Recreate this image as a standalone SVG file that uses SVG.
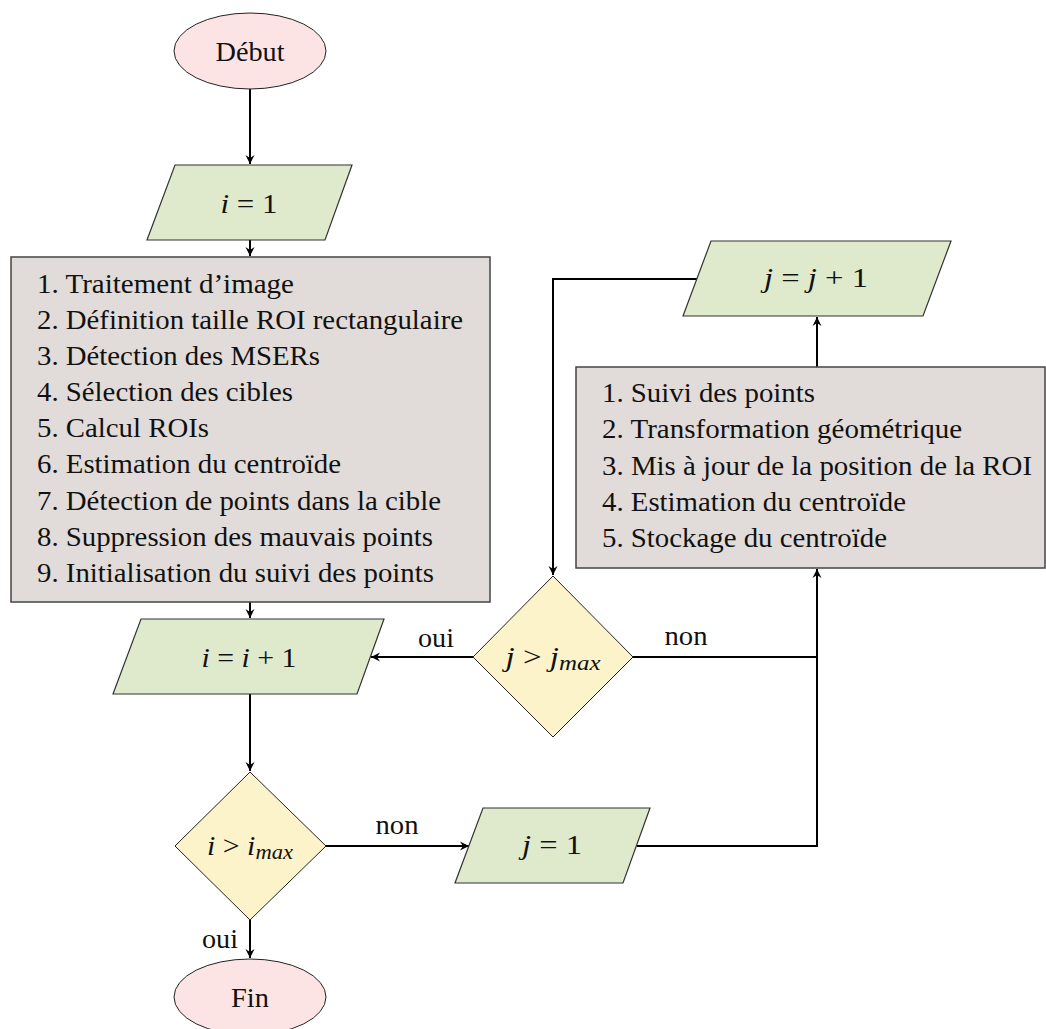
<svg xmlns="http://www.w3.org/2000/svg" width="1046" height="1029" viewBox="0 0 1046 1029">
<defs>
<marker id="arr" markerWidth="12" markerHeight="12" viewBox="-10 -6 12 12" refX="0" refY="0" orient="auto" markerUnits="userSpaceOnUse">
<path d="M0,0 L-9,-4.5 L-6,0 L-9,4.5 Z" fill="#000"/>
</marker>
</defs>
<style>
text{font-family:"Liberation Serif","DejaVu Serif",serif;font-size:26.5px;fill:#111}
.m{text-anchor:middle}
.it{font-style:italic}
.sub{font-style:italic;font-size:20px}
.term{fill:#fde4e4;stroke:#222;stroke-width:1}
.io{fill:#dfe9cc;stroke:#333;stroke-width:1.2}
.proc{fill:#e1dcd9;stroke:#444;stroke-width:1.5}
.dec{fill:#fdf3cb;stroke:#222;stroke-width:1}
.c{fill:none;stroke:#000;stroke-width:2}
</style>
<g id="connectors">
<path class="c" d="M250,89 V164" marker-end="url(#arr)"/>
<path class="c" d="M250,240 V256" marker-end="url(#arr)"/>
<path class="c" d="M250,602 V618" marker-end="url(#arr)"/>
<path class="c" d="M250,694 V771" marker-end="url(#arr)"/>
<path class="c" d="M250,920 V958" marker-end="url(#arr)"/>
<path class="c" d="M326,846 H469" marker-end="url(#arr)"/>
<path class="c" d="M637,846 H817 V569" marker-end="url(#arr)"/>
<path class="c" d="M633,657 H817"/>
<path class="c" d="M473,657 H371" marker-end="url(#arr)"/>
<path class="c" d="M817,367 V317" marker-end="url(#arr)"/>
<path class="c" d="M697,279 H553 V575" marker-end="url(#arr)"/>
<text class="m" x="436" y="647" textLength="36" lengthAdjust="spacingAndGlyphs">oui</text>
<text class="m" x="686" y="645" textLength="43" lengthAdjust="spacingAndGlyphs">non</text>
<text class="m" x="397" y="834" textLength="43" lengthAdjust="spacingAndGlyphs">non</text>
<text class="m" x="220" y="948" textLength="36" lengthAdjust="spacingAndGlyphs">oui</text>
</g>
<g id="debut">
<ellipse class="term" cx="250" cy="51" rx="76" ry="38"/>
<text class="m" x="250" y="61" textLength="69" lengthAdjust="spacingAndGlyphs">Début</text>
</g>
<g id="init-i">
<polygon class="io" points="175,165 352,165 325,240 147,240"/>
<text class="m" x="249" y="213" textLength="57" lengthAdjust="spacingAndGlyphs"><tspan class="it">i</tspan> = 1</text>
</g>
<g id="init-process">
<rect class="proc" x="11" y="257" width="479" height="345"/>
<text x="37" y="293" textLength="257" lengthAdjust="spacingAndGlyphs">1. Traitement d’image</text>
<text x="37" y="329" textLength="426" lengthAdjust="spacingAndGlyphs">2. Définition taille ROI rectangulaire</text>
<text x="37" y="365" textLength="283" lengthAdjust="spacingAndGlyphs">3. Détection des MSERs</text>
<text x="37" y="401" textLength="256" lengthAdjust="spacingAndGlyphs">4. Sélection des cibles</text>
<text x="37" y="437" textLength="172" lengthAdjust="spacingAndGlyphs">5. Calcul ROIs</text>
<text x="37" y="473" textLength="304" lengthAdjust="spacingAndGlyphs">6. Estimation du centroïde</text>
<text x="37" y="510" textLength="404" lengthAdjust="spacingAndGlyphs">7. Détection de points dans la cible</text>
<text x="37" y="546" textLength="396" lengthAdjust="spacingAndGlyphs">8. Suppression des mauvais points</text>
<text x="37" y="582" textLength="397" lengthAdjust="spacingAndGlyphs">9. Initialisation du suivi des points</text>
</g>
<g id="incr-i">
<polygon class="io" points="141,619 384,619 357,694 113,694"/>
<text class="m" x="249" y="667" textLength="95" lengthAdjust="spacingAndGlyphs"><tspan class="it">i</tspan> = <tspan class="it">i</tspan> + 1</text>
</g>
<g id="test-i">
<polygon class="dec" points="250,772 326,846 250,920 175,846"/>
<text class="m" x="250" y="855" textLength="86" lengthAdjust="spacingAndGlyphs"><tspan class="it">i</tspan> &gt; <tspan class="it">i</tspan><tspan class="sub" dy="4">max</tspan></text>
</g>
<g id="fin">
<ellipse class="term" cx="250" cy="997" rx="76" ry="38"/>
<text class="m" x="250" y="1007" textLength="38" lengthAdjust="spacingAndGlyphs">Fin</text>
</g>
<g id="init-j">
<polygon class="io" points="483,808 650,808 623,883 455,883"/>
<text class="m" x="552" y="854" textLength="60" lengthAdjust="spacingAndGlyphs"><tspan class="it">j</tspan> = 1</text>
</g>
<g id="track-process">
<rect class="proc" x="576" y="367" width="469" height="201"/>
<text x="602" y="402" textLength="213" lengthAdjust="spacingAndGlyphs">1. Suivi des points</text>
<text x="602" y="438" textLength="360" lengthAdjust="spacingAndGlyphs">2. Transformation géométrique</text>
<text x="602" y="475" textLength="430" lengthAdjust="spacingAndGlyphs">3. Mis à jour de la position de la ROI</text>
<text x="602" y="511" textLength="304" lengthAdjust="spacingAndGlyphs">4. Estimation du centroïde</text>
<text x="602" y="547" textLength="285" lengthAdjust="spacingAndGlyphs">5. Stockage du centroïde</text>
</g>
<g id="incr-j">
<polygon class="io" points="711,241 951,241 923,316 683,316"/>
<text class="m" x="816" y="287" textLength="104" lengthAdjust="spacingAndGlyphs"><tspan class="it">j</tspan> = <tspan class="it">j</tspan> + 1</text>
</g>
<g id="test-j">
<polygon class="dec" points="553,576 633,657 553,737 473,657"/>
<text class="m" x="553" y="666" textLength="95" lengthAdjust="spacingAndGlyphs"><tspan class="it">j</tspan> &gt; <tspan class="it">j</tspan><tspan class="sub" dy="4">max</tspan></text>
</g>
</svg>
